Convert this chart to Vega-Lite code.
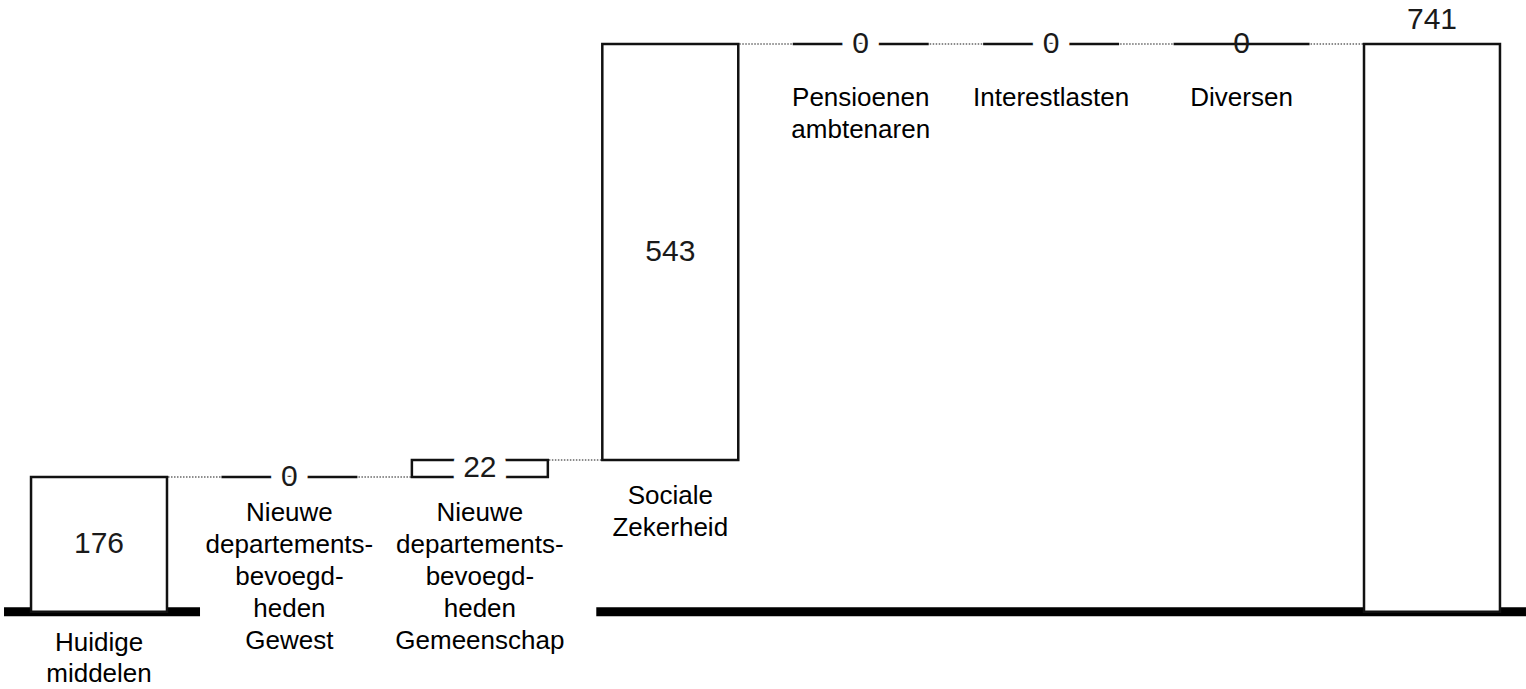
{
  "$schema": "https://vega.github.io/schema/vega-lite/v6.json",
  "width": 1526,
  "height": 689,
  "autosize": {"type": "none"},
  "padding": 0,
  "background": "white",
  "config": {"view": {"stroke": null}, "font": "Liberation Sans"},
  "datasets": {
    "bars": [
      {"category": "Huidige middelen", "start": 0, "end": 176, "label": "176", "kind": "start", "catLabel": ["Huidige", "middelen"]},
      {"category": "Nieuwe departementsbevoegdheden Gewest", "start": 176, "end": 176, "label": "0", "kind": "delta", "catLabel": ["Nieuwe", "departements-", "bevoegd-", "heden", "Gewest"]},
      {"category": "Nieuwe departementsbevoegdheden Gemeenschap", "start": 176, "end": 198, "label": "22", "kind": "delta", "catLabel": ["Nieuwe", "departements-", "bevoegd-", "heden", "Gemeenschap"]},
      {"category": "Sociale Zekerheid", "start": 198, "end": 741, "label": "543", "kind": "delta", "catLabel": ["Sociale", "Zekerheid"]},
      {"category": "Pensioenen ambtenaren", "start": 741, "end": 741, "label": "0", "kind": "delta", "catLabel": ["Pensioenen", "ambtenaren"]},
      {"category": "Interestlasten", "start": 741, "end": 741, "label": "0", "kind": "delta", "catLabel": ["Interestlasten"]},
      {"category": "Diversen", "start": 741, "end": 741, "label": "0", "kind": "delta", "catLabel": ["Diversen"]},
      {"category": "Totaal", "start": 0, "end": 741, "label": "741", "kind": "total", "catLabel": [""]}
    ],
    "connectors": [
      {"from": "Huidige middelen", "to": "Nieuwe departementsbevoegdheden Gewest", "level": 176},
      {"from": "Nieuwe departementsbevoegdheden Gewest", "to": "Nieuwe departementsbevoegdheden Gemeenschap", "level": 176},
      {"from": "Nieuwe departementsbevoegdheden Gemeenschap", "to": "Sociale Zekerheid", "level": 198},
      {"from": "Sociale Zekerheid", "to": "Pensioenen ambtenaren", "level": 741},
      {"from": "Pensioenen ambtenaren", "to": "Interestlasten", "level": 741},
      {"from": "Interestlasten", "to": "Diversen", "level": 741},
      {"from": "Diversen", "to": "Totaal", "level": 741}
    ]
  },
  "encoding": {
    "x": {
      "field": "category",
      "type": "nominal",
      "axis": null,
      "scale": {
        "type": "band",
        "domain": ["Huidige middelen", "Nieuwe departementsbevoegdheden Gewest", "Nieuwe departementsbevoegdheden Gemeenschap", "Sociale Zekerheid", "Pensioenen ambtenaren", "Interestlasten", "Diversen", "Totaal"],
        "range": [3.8, 1527.2],
        "paddingInner": 0,
        "paddingOuter": 0
      }
    }
  },
  "layer": [
    {
      "data": {"name": "connectors"},
      "mark": {"type": "rule", "stroke": "#666666", "strokeWidth": 1.5, "strokeDash": [1.5, 1.5]},
      "encoding": {
        "x": {"field": "from", "type": "nominal"},
        "x2": {"field": "to"},
        "y": {"field": "level", "type": "quantitative", "axis": null, "scale": {"domain": [-100.9, 798.6], "nice": false, "zero": false}}
      }
    },
    {
      "data": {"values": [{"from": "Huidige middelen", "to": "Huidige middelen", "level": 0}]},
      "mark": {"type": "rule", "stroke": "black", "strokeWidth": 9, "xOffset": -95, "x2Offset": 101},
      "encoding": {
        "x": {"field": "from", "type": "nominal"},
        "x2": {"field": "to"},
        "y": {"field": "level", "type": "quantitative"}
      }
    },
    {
      "data": {"values": [{"from": "Sociale Zekerheid", "to": "Totaal", "level": 0}]},
      "mark": {"type": "rule", "stroke": "black", "strokeWidth": 9, "xOffset": -74, "x2Offset": 94},
      "encoding": {
        "x": {"field": "from", "type": "nominal"},
        "x2": {"field": "to"},
        "y": {"field": "level", "type": "quantitative"}
      }
    },
    {
      "data": {"name": "bars"},
      "mark": {"type": "bar", "fill": "white", "stroke": "#111111", "strokeWidth": 2.5, "width": {"band": 0.714}},
      "encoding": {
        "y": {"field": "start", "type": "quantitative"},
        "y2": {"field": "end"}
      }
    },
    {
      "data": {"name": "bars"},
      "transform": [
        {"filter": "datum.kind !== 'total' && datum.end - datum.start < 50 && datum.category !== 'Diversen'"},
        {"fold": ["start", "end"], "as": ["edge", "level"]}
      ],
      "mark": {"type": "text", "fontSize": 30, "fill": "white", "stroke": "white", "strokeWidth": 22, "strokeJoin": "round", "baseline": "middle", "align": "center"},
      "encoding": {
        "y": {"field": "level", "type": "quantitative", "aggregate": "mean"},
        "text": {"field": "label", "type": "nominal"}
      }
    },
    {
      "data": {"name": "bars"},
      "transform": [
        {"filter": "datum.kind !== 'total'"},
        {"fold": ["start", "end"], "as": ["edge", "level"]}
      ],
      "mark": {"type": "text", "fontSize": 30, "fill": "#1a1a1a", "baseline": "middle", "align": "center"},
      "encoding": {
        "y": {"field": "level", "type": "quantitative", "aggregate": "mean"},
        "text": {"field": "label", "type": "nominal"}
      }
    },
    {
      "data": {"name": "bars"},
      "transform": [{"filter": "datum.kind === 'total'"}],
      "mark": {"type": "text", "fontSize": 30, "fill": "#1a1a1a", "baseline": "alphabetic", "align": "center", "dy": -15},
      "encoding": {
        "y": {"field": "end", "type": "quantitative"},
        "text": {"field": "label", "type": "nominal"}
      }
    },
    {
      "data": {"name": "bars"},
      "transform": [{"filter": "datum.kind === 'start'"}],
      "mark": {"type": "text", "fontSize": 26, "fill": "black", "baseline": "top", "align": "center", "dy": 18, "lineHeight": 31},
      "encoding": {
        "y": {"field": "start", "type": "quantitative"},
        "text": {"field": "catLabel", "type": "nominal"}
      }
    },
    {
      "data": {"name": "bars"},
      "transform": [{"filter": "datum.kind === 'delta' && datum.start < 700"}],
      "mark": {"type": "text", "fontSize": 26, "fill": "black", "baseline": "top", "align": "center", "dy": 23, "lineHeight": 32},
      "encoding": {
        "y": {"field": "start", "type": "quantitative"},
        "text": {"field": "catLabel", "type": "nominal"}
      }
    },
    {
      "data": {"name": "bars"},
      "transform": [{"filter": "datum.kind === 'delta' && datum.start >= 700"}],
      "mark": {"type": "text", "fontSize": 26, "fill": "black", "baseline": "top", "align": "center", "dy": 41, "lineHeight": 32},
      "encoding": {
        "y": {"field": "start", "type": "quantitative"},
        "text": {"field": "catLabel", "type": "nominal"}
      }
    }
  ]
}
